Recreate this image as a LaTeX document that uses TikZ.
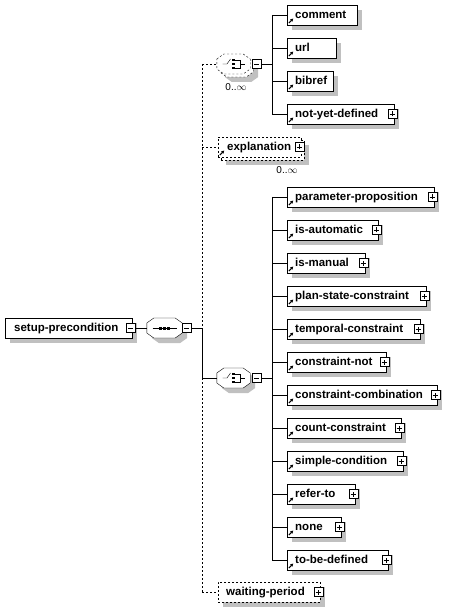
\documentclass[tikz,border=0pt]{standalone}
\usepackage{fontspec}
\setmainfont{Liberation Sans}
\usetikzlibrary{arrows.meta, positioning}

\definecolor{shadowgrey}{RGB}{192,192,192}

\tikzset{
    box/.style={draw, fill=white, minimum height=20pt, inner sep=0pt},
    shadowbox/.style={draw=none, fill=shadowgrey, minimum height=20pt, inner sep=0pt},
    dashy/.style={dash pattern=on 2pt off 2pt},
    shadowfill/.style={fill=shadowgrey},
    octa/.style={draw=none, minimum width=33pt, minimum height=20pt, inner sep=0pt},
    lbl/.style={font=\bfseries\fontsize{11.5}{12}\selectfont, inner sep=0pt, anchor=west,
        text height=9.5pt, text depth=2pt},
    occ/.style={font=\fontsize{10}{10}\selectfont, inner sep=0pt},
    pmbox/.style={draw, fill=white, minimum size=9pt, inner sep=0pt},
    collapse/.style={pmbox, path picture={
        \draw ([xshift=2pt]path picture bounding box.west) -- ([xshift=-2pt]path picture bounding box.east);}},
    expand/.style={pmbox, path picture={
        \draw ([xshift=2pt]path picture bounding box.west) -- ([xshift=-2pt]path picture bounding box.east);
        \draw ([yshift=2pt]path picture bounding box.south) -- ([yshift=-2pt]path picture bounding box.north);}},
    refarrow/.style={-{Triangle[length=3pt,width=3pt]}, line width=1pt}
}

% octagon round a node: name, dx, dy, options
\newcommand{\octshape}[4]{
    \path[#4] ([xshift=#2pt,yshift=#3pt+5pt]#1.west) -- ([xshift=#2pt+7pt,yshift=#3pt+10pt]#1.west)
        -- ([xshift=#2pt-7pt,yshift=#3pt+10pt]#1.east) -- ([xshift=#2pt,yshift=#3pt+5pt]#1.east)
        -- ([xshift=#2pt,yshift=#3pt-5pt]#1.east) -- ([xshift=#2pt-7pt,yshift=#3pt-10pt]#1.east)
        -- ([xshift=#2pt+7pt,yshift=#3pt-10pt]#1.west) -- ([xshift=#2pt,yshift=#3pt-5pt]#1.west) -- cycle;
}

% choice symbol inside an octagon
\newcommand{\choicesign}[1]{
    \draw ([xshift=-11pt]#1.center) -- ++(4.5pt,0) -- ++(3.5pt,5pt);
    \foreach \d in {4,0,-4}
        \fill ([xshift=-1.5pt,yshift=\d pt]#1.center) +(0,-1.25pt) rectangle +(3pt,1.25pt);
    \draw ([xshift=1.5pt,yshift=4pt]#1.center) -- ++(5pt,0) -- ++(0,-8pt) -- ++(-5pt,0);
    \draw ([xshift=6.5pt]#1.center) -- ++(5pt,0);
}

\begin{document}
\begin{tikzpicture}[x=1pt, y=-1pt]

    \useasboundingbox (0,0) rectangle (456,609);

    % root element
    \node[shadowbox, minimum width=127pt] (rootS) at (73.5,333) {};
    \node[box, minimum width=127pt] (root) at (68.5,328) {};
    \node[lbl] (rootT) at (14,328) {setup-precondition};
    \node[collapse] (rootM) at (130.5,328) {};

    % sequence
    \node[octa, minimum width=35pt] (seq) at (164.5,328) {};
    \octshape{seq}{5}{-5}{shadowfill}
    \octshape{seq}{0}{0}{draw, fill=white}
    \draw ([xshift=-12pt]seq.center) -- ([xshift=12pt]seq.center);
    \foreach \d in {-5.5,-1.5,2.5}
        \fill ([xshift=\d pt, yshift=-1.5pt]seq.center) rectangle ++(3pt,3pt);
    \node[collapse] (seqM) at (186.5,328) {};
    \draw (rootM.east) -- (seq.west);

    \coordinate (spine) at (202,328);
    \draw (seqM.east) -- (spine);

    % first choice, 0..unbounded
    \node[octa] (choiceA) at (233.5,64) {};
    \octshape{choiceA}{8}{-8}{shadowfill}
    \octshape{choiceA}{3}{-3}{draw, dashy, fill=white}
    \octshape{choiceA}{0}{0}{draw, dashy, fill=white}
    \choicesign{choiceA}
    \node[collapse] (choiceAM) at (256.5,64) {};
    \node[occ] (occA) at (236,87) {0..$\infty$};
    \coordinate (spineA) at (272,64);
    \draw (choiceAM.east) -- (spineA);

    \foreach \name/\y/\r/\txt/\p in {comment/15/357/comment/0, url/48/336/url/0,
        bibref/81/333/bibref/0, notYet/114/394/not-yet-defined/1}
    {
        \pgfmathsetmacro\w{\r-287}
        \pgfmathsetmacro\cx{(\r+287)/2}
        \node[shadowbox, minimum width=\w pt] (\name S) at (\cx+5,\y+5) {};
        \node[box, minimum width=\w pt] (\name) at (\cx,\y) {};
        \node[lbl] (\name T) at (295,\y) {\txt};
        \draw[refarrow] ([xshift=2pt,yshift=-8pt]\name.west) -- ++(4.5pt,4.5pt);
        \ifnum\p=1 \node[expand] (\name P) at ([xshift=-2pt]\name.east) {}; \fi
        \draw (spineA |- \name.west) -- (\name.west);
    }
    \draw (spineA |- comment.west) -- (spineA |- notYet.west);

    % explanation, 0..unbounded
    \node[shadowbox, minimum width=83pt] (explS) at (267.5,155) {};
    \node[box, dashy, minimum width=83pt] (explBack) at (262.5,150) {};
    \node[box, dashy, minimum width=83pt] (expl) at (259.5,147) {};
    \node[lbl] (explT) at (227,147) {explanation};
    \draw[refarrow] ([xshift=2pt,yshift=-8pt]expl.west) -- ++(4.5pt,4.5pt);
    \node[expand] (explP) at ([xshift=-2pt]expl.east) {};
    \node[occ] (occB) at (287,170) {0..$\infty$};

    % second choice
    \node[octa] (choiceB) at (233.5,378) {};
    \octshape{choiceB}{5}{-5}{shadowfill}
    \octshape{choiceB}{0}{0}{draw, fill=white}
    \choicesign{choiceB}
    \node[collapse] (choiceBM) at (256.5,378) {};
    \coordinate (spineB) at (272,378);
    \draw (choiceBM.east) -- (spineB);

    \foreach \name/\y/\r/\txt in {paramProp/197/434/parameter-proposition,
        isAuto/230/378/is-automatic, isManual/263/365/is-manual,
        planState/296/426/plan-state-constraint, temporal/329/420/temporal-constraint,
        constrNot/362/386/constraint-not, constrComb/395/437/constraint-combination,
        countConstr/428/401/count-constraint, simpleCond/461/403/simple-condition,
        referTo/494/355/refer-to, noneEl/527/341/none, toBeDef/560/388/to-be-defined}
    {
        \pgfmathsetmacro\w{\r-287}
        \pgfmathsetmacro\cx{(\r+287)/2}
        \node[shadowbox, minimum width=\w pt] (\name S) at (\cx+5,\y+5) {};
        \node[box, minimum width=\w pt] (\name) at (\cx,\y) {};
        \node[lbl] (\name T) at (295,\y) {\txt};
        \draw[refarrow] ([xshift=2pt,yshift=-8pt]\name.west) -- ++(4.5pt,4.5pt);
        \node[expand] (\name P) at ([xshift=-2pt]\name.east) {};
        \draw (spineB |- \name.west) -- (\name.west);
    }
    \draw (spineB |- paramProp.west) -- (spineB |- toBeDef.west);

    % waiting-period, optional
    \node[shadowbox, minimum width=102pt] (waitingS) at (274,597) {};
    \node[box, dashy, minimum width=102pt] (waiting) at (269,592) {};
    \node[lbl] (waitingT) at (226,592) {waiting-period};
    \node[expand] (waitingP) at ([xshift=-2pt]waiting.east) {};

    % spine of the sequence
    \draw[dashy] (spine |- choiceA.west) -- (spine);
    \draw (spine) -- (spine |- choiceB.west);
    \draw[dashy] (spine |- choiceB.west) -- (spine |- waiting.west);
    \draw[dashy] (spine |- choiceA.west) -- (choiceA.west);
    \draw[dashy] (spine |- expl.west) -- (expl.west);
    \draw (spine |- choiceB.west) -- (choiceB.west);
    \draw[dashy] (spine |- waiting.west) -- (waiting.west);

\end{tikzpicture}
\end{document}
